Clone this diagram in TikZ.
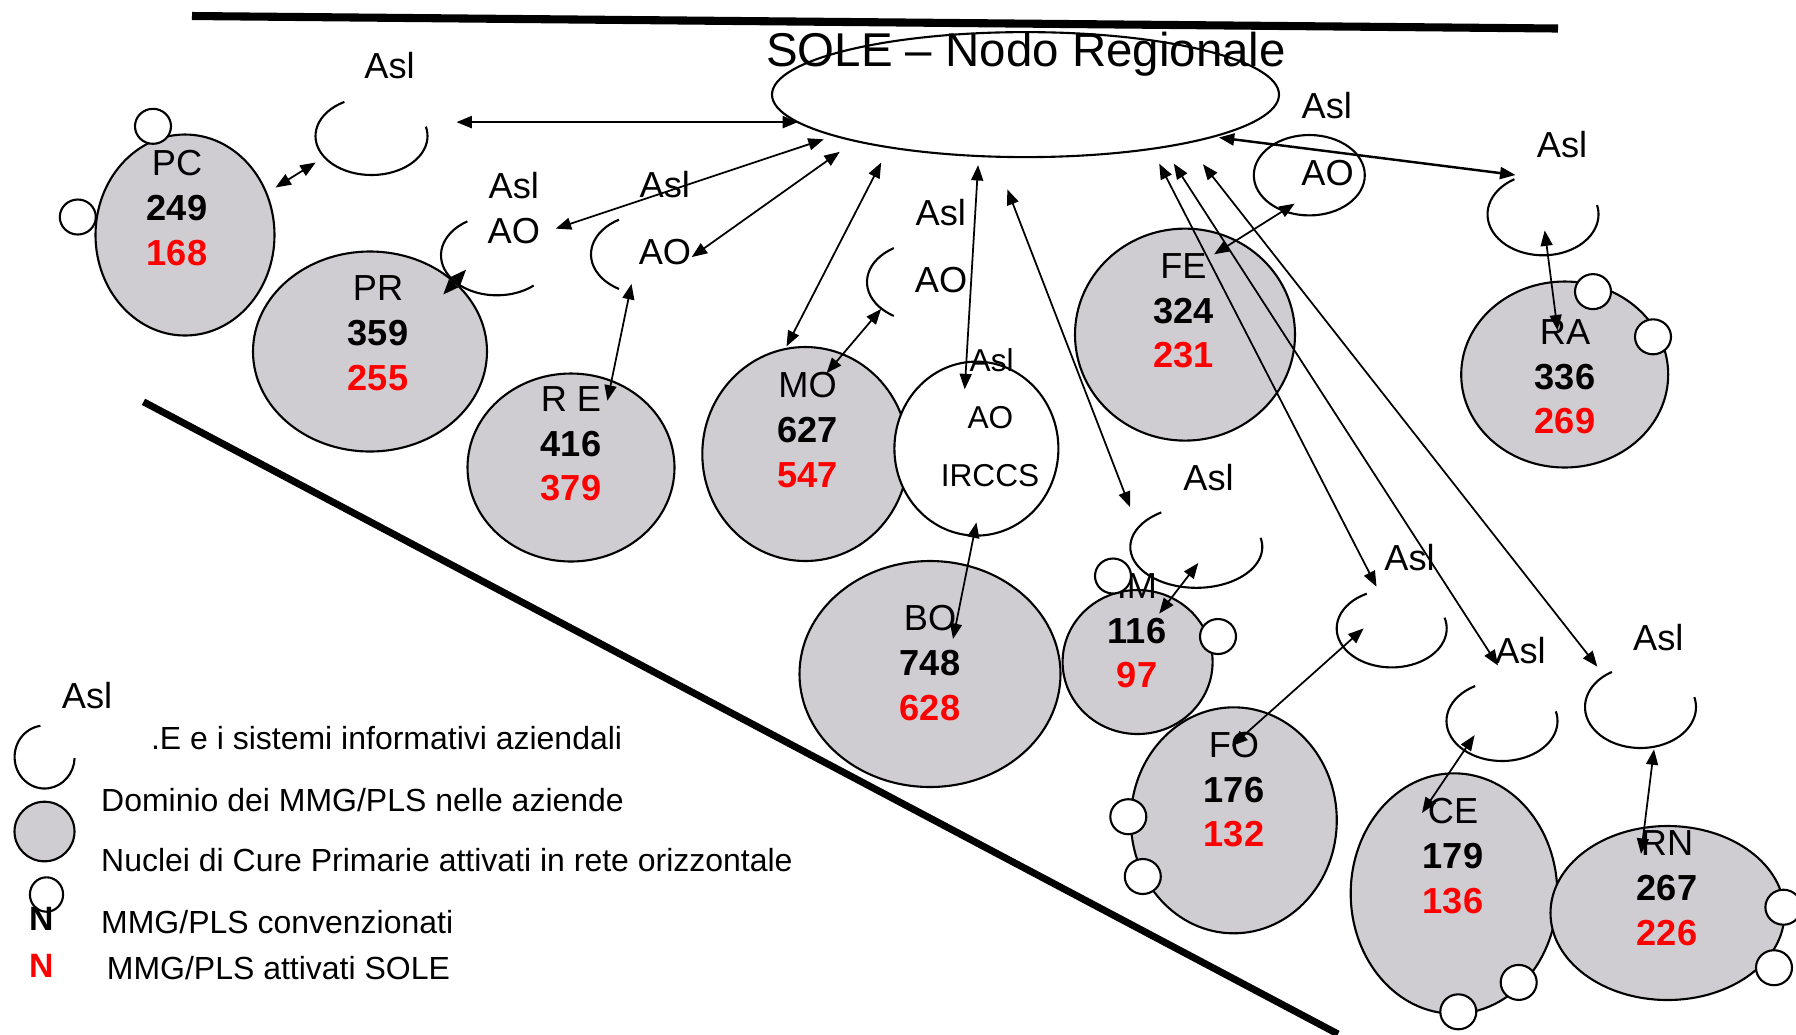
\documentclass[tikz,border=0pt]{standalone}
\usepackage{fontspec}
\setmainfont{Liberation Sans}
\usepackage{tikz}
\usetikzlibrary{arrows.meta,shapes.geometric}
\definecolor{nucleo}{RGB}{207,205,210}
\definecolor{rosso}{RGB}{255,0,0}
\tikzstyle{link}   = [line width=0.5pt,<->,>={Triangle[length=4.4pt,width=3.4pt]}]
\tikzstyle{rim}    = [line width=0.6pt]
\tikzstyle{blob}   = [ellipse,draw,rim,fill=nucleo,inner sep=0pt]
\tikzstyle{mmg}    = [ellipse,draw,rim,fill=white,inner sep=0pt,minimum width=3.6mm,minimum height=3.5mm]
\tikzstyle{lbl}    = [anchor=base,inner sep=0pt,font=\fontsize{10.3}{12}\selectfont]
\tikzstyle{num}    = [anchor=base,inner sep=0pt,font=\fontsize{10.3}{12}\selectfont\bfseries]
\tikzstyle{small}  = [anchor=base,inner sep=0pt,font=\fontsize{9}{11}\selectfont]
\tikzstyle{leg}    = [anchor=base west,inner sep=0pt,font=\fontsize{9.1}{11}\selectfont]

\begin{document}
\begin{tikzpicture}[x=0.1mm,y=-0.1mm]
        \useasboundingbox (0,0) rectangle (1796,1034);
        % frame lines
        \draw[line width=2.3pt] (192,16) -- (1558,28.5);
        \draw[line width=2pt] (143.5,401.8) -- (1338,1034);

        % regional node
        \node[ellipse,draw,rim,inner sep=0pt,minimum width=50.7mm,minimum height=12.5mm] (sole) at (1025.5,94.6) {};
        \node[anchor=base,inner sep=0pt,font=\fontsize{13.5}{16}\selectfont] (title) at (1026,66) {SOLE \textendash{} Nodo Regionale};

        % nuclei di cure primarie
        \foreach \n/\x/\y/\rx/\ry/\lab/\tx/\ty/\tot/\att in {
            pc/185/235/89.5/100.5/PC/177/175.5/249/168,
            pr/370/351.5/117/100/PR/378/300.5/359/255,
            re/571/467.5/103.5/94/R E/571/411/416/379,
            mo/805.3/454/103/107/MO/807.5/397.5/627/547,
            bo/930/674/130.5/113/BO/930/630.5/748/628,
            im/1137.6/662/75/72/IM/1137/598.4/116/97,
            fe/1185/334.6/110/106/FE/1183.5/278/324/231,
            ra/1564.7/374.5/103.5/93/RA/1565/344.3/336/269,
            fo/1233.8/820.3/103/113/FO/1234/757/176/132,
            ce/1454/893.5/103.3/120.2/CE/1453/823.8/179/136,
            rn/1667.5/913/117/87/RN/1667/855.5/267/226}
        {
            \node[blob,minimum width=\rx*0.2mm,minimum height=\ry*0.2mm] (\n) at (\x,\y) {};
            \node[lbl] (\n-lab) at (\tx,\ty) {\lab};
            \node[num] (\n-tot) at (\tx,\ty+45) {\tot};
            \node[num,text=rosso] (\n-att) at (\tx,\ty+89.5) {\att};
        }

        % AO / IRCCS
        \node[ellipse,draw,rim,fill=white,inner sep=0pt,minimum width=16.4mm,minimum height=17.4mm] (irccs) at (976.4,448.6) {};
        \node[small] (irccs-asl) at (991.7,371.4) {Asl};
        \node[small] (irccs-ao) at (990.4,428.6) {AO};
        \node[small] (irccs-lab) at (990,486.4) {IRCCS};

        % MMG/PLS
        \foreach \p [count=\i] in {(153,126.3),(77.8,217),(1593,291.6),(1653,336.8),
            (1113,576),(1218,636.5),(1128.3,816.7),(1142.8,876.5),
            (1518.7,982.4),(1458.3,1011.8),(1783.4,907.2),(1774,967.7)}
            \node[mmg] (mmg\i) at \p {};

        % Asl arcs
        \foreach \n/\x/\y/\rx/\ry/\a/\b in {
            pc/371.5/136/56/39/119/374,
            pr/497/255.3/56/40/122/311,
            re/647/254.3/56/40/120/240,
            mo/924/282/57/40/122/238,
            ra/1543/214.3/55.5/41/121/373,
            im/1196.3/547/66/40.8/122/373,
            fo/1391.7/628.4/55/39/117/376,
            ce/1502/721/55.5/40/119/374,
            rn/1640.5/707/55.5/41/121/374,
            leg/44.6/757/30/31.5/98/358}
            \draw[rim] (\x,\y) ++(-\a:{\rx} and {\ry}) arc[start angle=-\a,end angle=-\b,x radius=\rx,y radius=\ry];
        \node[ellipse,draw,rim,inner sep=0pt,minimum width=11.1mm,minimum height=8.04mm] (fe-ao) at (1309.3,175.2) {};

        \node[lbl] (asl-pc) at (389.6,78) {Asl};
        \node[lbl] (asl-pr) at (513.8,198) {Asl};
        \node[lbl] (ao-pr) at (513.8,243) {AO};
        \node[lbl] (asl-re) at (664.8,197.5) {Asl};
        \node[lbl] (ao-re) at (665,264.3) {AO};
        \node[lbl] (asl-mo) at (940.8,225) {Asl};
        \node[lbl] (ao-mo) at (941,292) {AO};
        \node[lbl] (asl-fe) at (1326.8,118) {Asl};
        \node[lbl] (ao-fe) at (1327.5,185) {AO};
        \node[lbl] (asl-ra) at (1562,157) {Asl};
        \node[lbl] (asl-im) at (1208.5,490) {Asl};
        \node[lbl] (asl-fo) at (1409.5,570) {Asl};
        \node[lbl] (asl-ce) at (1520.5,663.7) {Asl};
        \node[lbl] (asl-rn) at (1658.3,650.3) {Asl};

        % arrow ends
        \coordinate (s1) at (798,122.1);
        \coordinate (s2) at (823.8,139.3);
        \coordinate (s3) at (839.8,151.8);
        \coordinate (s4) at (881.2,162.5);
        \coordinate (s5) at (978.1,165);
        \coordinate (s6) at (1007.3,189.3);
        \coordinate (s7) at (1159.2,163.6);
        \coordinate (s8) at (1173.8,163.6);
        \coordinate (s9) at (1203,164.3);
        \coordinate (s10) at (1218.8,137.5);
        \coordinate (pcA) at (456.4,122.1);
        \coordinate (pcB) at (315.7,162.5);
        \coordinate (pcN) at (275.5,187.5);
        \coordinate (prA) at (555.7,228.6);
        \coordinate (prB) at (466.1,269.6);
        \coordinate (prN) at (443.2,294.6);
        \coordinate (reA) at (691.7,257.1);
        \coordinate (reB) at (631.5,283.9);
        \coordinate (reN) at (607.4,400.7);
        \coordinate (moN) at (786.5,346.4);
        \coordinate (moM) at (826.6,373.2);
        \coordinate (moB) at (881.2,308.9);
        \coordinate (irA) at (964.7,389.3);
        \coordinate (irB) at (976.4,522.4);
        \coordinate (boN) at (953,639);
        \coordinate (imA) at (1130,507.1);
        \coordinate (imB) at (1198.3,563);
        \coordinate (imN) at (1159.2,613.6);
        \coordinate (foA) at (1376.5,586.7);
        \coordinate (foB) at (1363.6,628.4);
        \coordinate (foN) at (1232.2,745.7);
        \coordinate (ceA) at (1498,665.5);
        \coordinate (ceB) at (1474.6,735.1);
        \coordinate (ceN) at (1422,812.9);
        \coordinate (rnA) at (1597.3,666.6);
        \coordinate (rnB) at (1654,749.3);
        \coordinate (rnN) at (1641,853.9);
        \coordinate (raA) at (1515.5,175);
        \coordinate (raB) at (1544.7,230.4);
        \coordinate (raN) at (1557.6,330.4);
        \coordinate (feB) at (1294.7,203.6);
        \coordinate (feN) at (1214.1,254.3);

        \draw[link,line width=0.7pt] (pcA) -- (s1);
        \draw[link] (pcN) -- (pcB);
        \draw[link] (prA) -- (s2);
        \draw[link] (prN) -- (prB);
        \draw[link] (reA) -- (s3);
        \draw[link] (reN) -- (reB);
        \draw[link] (moN) -- (s4);
        \draw[link] (moM) -- (moB);
        \draw[link] (irA) -- (s5);
        \draw[link] (boN) -- (irB);
        \draw[link] (imA) -- (s6);
        \draw[link] (imN) -- (imB);
        \draw[link] (foA) -- (s7);
        \draw[link] (foN) -- (foB);
        \draw[link] (ceA) -- (s8);
        \draw[link] (ceN) -- (ceB);
        \draw[link] (rnA) -- (s9);
        \draw[link] (rnN) -- (rnB);
        \draw[link,line width=0.7pt] (raA) -- (s10);
        \draw[link] (raN) -- (raB);
        \draw[link] (feN) -- (feB);

        % legend
        \node[lbl] (leg-asl) at (87,708.3) {Asl};
        \node[blob,minimum width=6mm,minimum height=5.96mm] (leg-blob) at (44.5,831.5) {};
        \node[mmg,minimum width=3.32mm,minimum height=3.44mm] (leg-mmg) at (46.5,894.5) {};
        \node[anchor=base,inner sep=0pt,font=\fontsize{9.6}{11}\selectfont\bfseries] (leg-n) at (41.4,930.7) {N};
        \node[anchor=base,inner sep=0pt,font=\fontsize{9.6}{11}\selectfont\bfseries,text=rosso] (leg-r) at (41.4,977) {N};
        \node[leg] (leg-1) at (150.4,749) {.E e i sistemi informativi aziendali};
        \node[leg] (leg-2) at (100.5,811.7) {Dominio dei MMG/PLS nelle aziende};
        \node[leg] (leg-3) at (100.5,871.7) {Nuclei di Cure Primarie attivati in rete orizzontale};
        \node[leg] (leg-4) at (100.5,933.3) {MMG/PLS convenzionati};
        \node[leg] (leg-5) at (106.2,979.3) {MMG/PLS attivati SOLE};
    \end{tikzpicture}
\end{document}
